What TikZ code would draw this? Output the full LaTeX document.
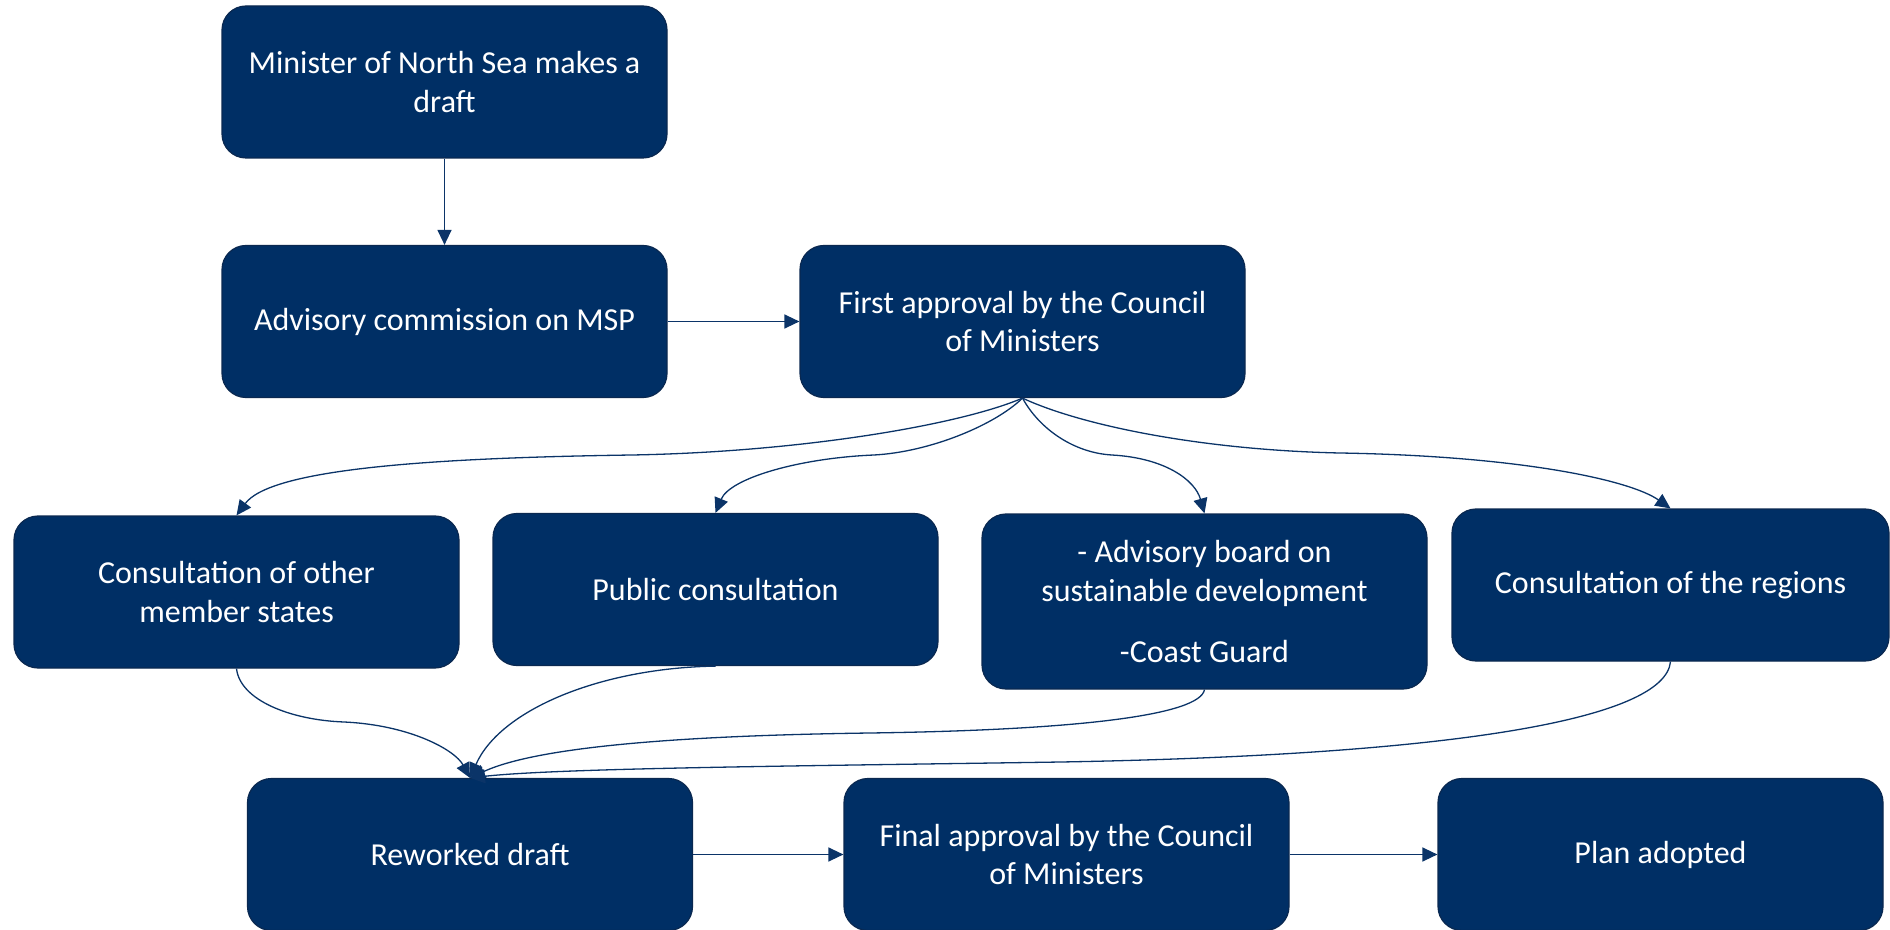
\documentclass[tikz,border=0pt]{standalone}
\usepackage{fontspec}
\setmainfont{Carlito}
\usetikzlibrary{arrows.meta,calc}
\definecolor{navy}{HTML}{002F65}
\definecolor{navyd}{HTML}{0A2850}
\definecolor{linec}{HTML}{0B3468}
\tikzset{
  box/.style={rectangle, rounded corners=12pt, fill=navy, draw=navyd, line width=0.6pt,
    text=white, minimum width=222.5pt, minimum height=76pt, align=center, inner sep=0pt,
    font=\fontsize{16}{19.3}\selectfont},
  conn/.style={draw=linec, line width=0.65pt, -{Triangle[length=7.5pt,width=7pt]}}
}
\begin{document}
\begin{tikzpicture}[x=0.5pt,y=-0.5pt]
\useasboundingbox (0,0) rectangle (1890,930);
\node[box] (b1) at (444.5,82) {Minister of North Sea makes a\\draft};
\node[box] (b2) at (444.5,321.5) {Advisory commission on MSP};
\node[box] (b3) at (1022.5,321.5) {First approval by the Council\\of Ministers};
\node[box] (a) at (236.5,592) {Consultation of other\\member states};
\node[box] (b) at (715.5,589.5) {Public consultation};
\node[box, minimum height=87.5pt] (c) at (1204.5,601.5) {- Advisory board on\\sustainable development\\[11pt]-Coast Guard};
\node[box, minimum width=218.5pt] (d) at (1670.5,585) {Consultation of the regions};
\node[box] (e) at (470,854.5) {Reworked draft};
\node[box] (f) at (1066.5,854.5) {Final approval by the Council\\of Ministers};
\node[box] (g) at (1660.5,854.5) {Plan adopted};

\draw[conn] (b1) -- (b2);
\draw[conn] (b2) -- (b3);
\draw[conn] (e) -- (f);
\draw[conn] (f) -- (g);

\draw[conn] (b3.south) .. controls (960,425) and (800,452) .. (632,455)
  .. controls (420,458) and (270,470) .. (a.north);
\draw[conn] (b3.south) .. controls (995,425) and (930,452) .. (874,455)
  .. controls (800,458) and (730,478) .. (b.north);
\draw[conn] (b3.south) .. controls (1040,430) and (1075,453) .. (1112,455)
  .. controls (1165,458) and (1195,480) .. (c.north);
\draw[conn] (b3.south) .. controls (1080,425) and (1200,450) .. (1340,453)
  .. controls (1520,456) and (1630,480) .. (d.north);

\draw[conn] (a.south) .. controls (240,700) and (290,720) .. (344,722)
  .. controls (410,725) and (455,750) .. (e.north);
\draw[conn] (b.south) .. controls (600,668) and (500,710) .. (e.north);
\draw[conn] (c.south) .. controls (1200,715) and (1080,730) .. (870,733)
  .. controls (650,736) and (530,750) .. (e.north);
\draw[conn] (d.south) .. controls (1665,720) and (1450,755) .. (1061,762)
  .. controls (800,766) and (560,768) .. (e.north);
\end{tikzpicture}
\end{document}
